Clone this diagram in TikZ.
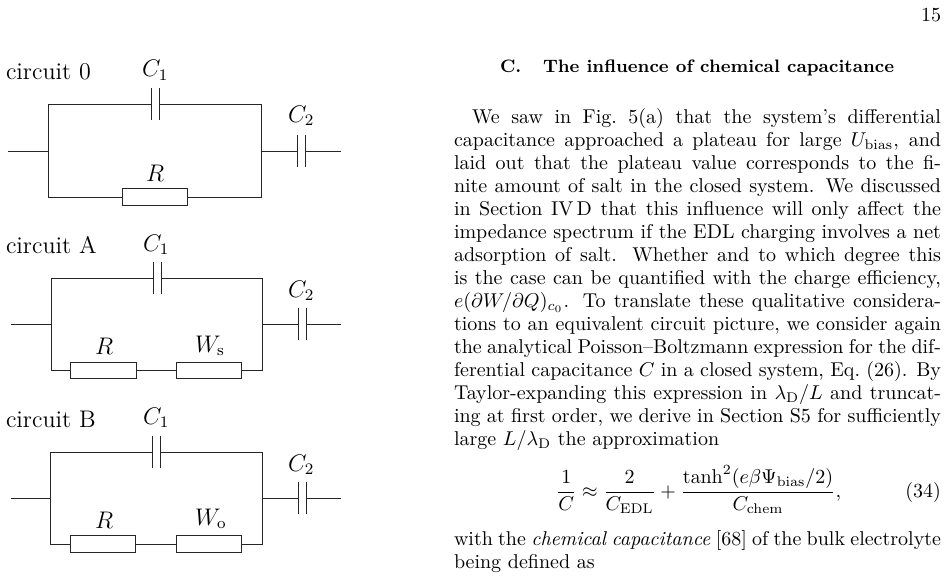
\documentclass[tikz,border=0pt]{standalone}
\tikzset{
  wire/.style={line width=0.5pt,black!85},
  capbox/.style={rectangle,inner sep=0pt,outer sep=0pt,minimum width=4pt,minimum height=16pt},
  resbox/.style={rectangle,draw,line width=0.5pt,black!85,inner sep=0pt,outer sep=0pt,minimum width=32.75pt,minimum height=8.25pt},
  lab/.style={anchor=base west,inner sep=0pt,outer sep=0pt},
  clab/.style={lab,font=\fontsize{11.5}{13}\selectfont},
  tlab/.style={lab,font=\fontsize{12}{14}\selectfont},
  lineR/.style={anchor=base east,inner sep=0pt,outer sep=0pt},
  heading/.style={lab,font=\fontsize{9}{11}\selectfont\bfseries},
}
\newcommand{\jl}[1]{\makebox[243.5pt][s]{#1}}
\newcommand{\plates}[1]{\draw[wire] (#1.north west)--(#1.south west) (#1.north east)--(#1.south east);}
\begin{document}
\begin{tikzpicture}[x=0.5pt,y=-0.5pt]
\useasboundingbox (0,0) rectangle (947,579);
% circuit 0
\node[tlab] (t0) at (6,79) {circuit 0};
\node[clab] (c01l) at (142,76.5) {$C_1$};
\node[clab] (c02l) at (288,122) {$C_2$};
\node[clab] (r0l) at (146,181.5) {$R$};
\node[capbox] (c01) at (155,104) {};
\node[capbox] (c02) at (301,151) {};
\node[resbox] (r0) at (155,197) {};
\coordinate (a0) at (48,104); \coordinate (b0) at (261,104);
\coordinate (e0) at (48,197); \coordinate (f0) at (261,197);
\coordinate (m0) at (48,151); \coordinate (n0) at (261,151);
\coordinate (s0) at (8,151); \coordinate (z0) at (341,151);
\draw[wire] (c01.west) -- (a0) -- (e0) -- (r0.west);
\draw[wire] (c01.east) -- (b0) -- (f0) -- (r0.east);
\draw[wire] (s0) -- (m0);
\draw[wire] (n0) -- (c02.west);
\draw[wire] (c02.east) -- (z0);
\plates{c01}\plates{c02}
% circuit A
\node[tlab] (tA) at (6,253) {circuit A};
\node[clab] (cA1l) at (143,251) {$C_1$};
\node[clab] (cA2l) at (288,297) {$C_2$};
\node[clab] (rAl) at (95,354) {$R$};
\node[clab] (wAl) at (195,352) {$W_{\rm s}$};
\node[capbox] (cA1) at (157,278) {};
\node[capbox] (cA2) at (302,324) {};
\node[resbox] (rA) at (103.5,370.5) {};
\node[resbox] (wA) at (209,370.5) {};
\coordinate (aA) at (51,278); \coordinate (bA) at (262,278);
\coordinate (eA) at (51,370.5); \coordinate (fA) at (262,370.5);
\coordinate (mA) at (51,324); \coordinate (nA) at (262,324);
\coordinate (sA) at (11,324); \coordinate (zA) at (341,324);
\draw[wire] (cA1.west) -- (aA) -- (eA) -- (rA.west);
\draw[wire] (cA1.east) -- (bA) -- (fA) -- (wA.east);
\draw[wire] (rA.east) -- (wA.west);
\draw[wire] (sA) -- (mA);
\draw[wire] (nA) -- (cA2.west);
\draw[wire] (cA2.east) -- (zA);
\plates{cA1}\plates{cA2}
% circuit B
\node[tlab] (tB) at (6,427) {circuit B};
\node[clab] (cB1l) at (143,424) {$C_1$};
\node[clab] (cB2l) at (288,471) {$C_2$};
\node[clab] (rBl) at (95,528) {$R$};
\node[clab] (wBl) at (195,525) {$W_{\rm o}$};
\node[capbox] (cB1) at (156,452) {};
\node[capbox] (cB2) at (302,498) {};
\node[resbox] (rB) at (103,544) {};
\node[resbox] (wB) at (209,544) {};
\coordinate (aB) at (50.5,452); \coordinate (bB) at (262,452);
\coordinate (eB) at (50.5,544); \coordinate (fB) at (262,544);
\coordinate (mB) at (50.5,498); \coordinate (nB) at (262,498);
\coordinate (sB) at (11,498); \coordinate (zB) at (341,498);
\draw[wire] (cB1.west) -- (aB) -- (eB) -- (rB.west);
\draw[wire] (cB1.east) -- (bB) -- (fB) -- (wB.east);
\draw[wire] (rB.east) -- (wB.west);
\draw[wire] (sB) -- (mB);
\draw[wire] (nB) -- (cB2.west);
\draw[wire] (cB2.east) -- (zB);
\plates{cB1}\plates{cB2}
% text column
\node[lineR] (pg) at (941,21) {15};
\node[heading] (hc) at (500,72) {C.};
\node[heading] (ht) at (543,72) {The influence of chemical capacitance};
\node[lab] (l1) at (472,123) {\makebox[234.5pt][s]{We saw in Fig.\ 5(a) that the system's differential}};
\node[lab] (l2) at (454,146) {\jl{capacitance approached a plateau for large $U_{\rm bias}$, and}};
\node[lab] (l3) at (454,169.5) {\jl{laid out that the plateau value corresponds to the fi-}};
\node[lab] (l4) at (454,192.5) {\jl{nite amount of salt in the closed system. We discussed}};
\node[lab] (l5) at (454,215.5) {\jl{in Section IV\,D that this influence will only affect the}};
\node[lab] (l6) at (454,238.5) {\jl{impedance spectrum if the EDL charging involves a net}};
\node[lab] (l7) at (454,261.5) {\jl{adsorption of salt. Whether and to which degree this}};
\node[lab] (l8) at (454,284.5) {\jl{is the case can be quantified with the charge efficiency,}};
\node[lab] (l9) at (454,307.5) {\jl{$e(\partial W/\partial Q)_{c_0}$. To translate these qualitative considera-}};
\node[lab] (l10) at (454,330.5) {\jl{tions to an equivalent circuit picture, we consider again}};
\node[lab] (l11) at (454,353.5) {\jl{the analytical Poisson--Boltzmann expression for the dif-}};
\node[lab] (l12) at (454,376) {\jl{ferential capacitance $C$ in a closed system, Eq.~(26). By}};
\node[lab] (l13) at (454,399) {\jl{Taylor-expanding this expression in $\lambda_{\rm D}/L$ and truncat-}};
\node[lab] (l14) at (454,422) {\jl{ing at first order, we derive in Section S5 for sufficiently}};
\node[lab] (l15) at (454,445) {large $L/\lambda_{\rm D}$ the approximation};
\node[lab] (eq) at (556,497) {$\displaystyle \frac{1}{C}\approx\frac{2}{C_{\rm EDL}}+\frac{\tanh^2(e\beta\Psi_{\rm bias}/2)}{C_{\rm chem}},$};
\node[lineR] (eqn) at (941,497) {(34)};
\node[lab] (l16) at (454,545) {\jl{with the \emph{chemical capacitance} [68] of the bulk electrolyte}};
\node[lab] (l17) at (454,568) {being defined as};
\end{tikzpicture}
\end{document}
